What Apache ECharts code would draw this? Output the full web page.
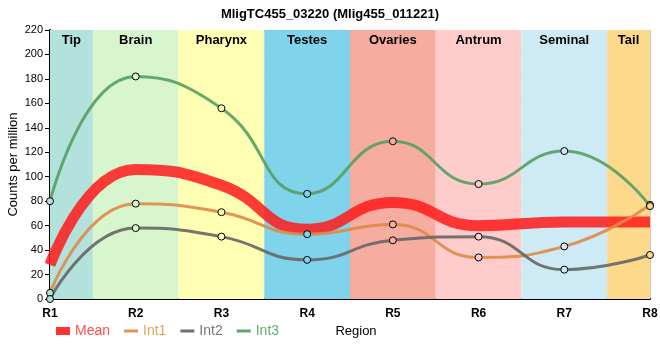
<!DOCTYPE html>
<html>
<head>
<meta charset="utf-8">
<script src="https://cdn.jsdelivr.net/npm/echarts@6/dist/echarts.min.js"></script>
<style>html,body{margin:0;padding:0;background:#fff;}#c{width:660px;height:360px;}</style>
</head>
<body>
<div id="c"></div>
<script>
var categories = ['R1','R2','R3','R4','R5','R6','R7','R8'];
var bands = ['Tip','Brain','Pharynx','Testes','Ovaries','Antrum','Seminal','Tail'];
var bandColors = ['#b3e2dd','#d8f6ce','#ffffb4','#7fd4eb','#f6ada0','#ffcccc','#ceeaf5','#fdd98c'];
var meanValues = [28, 106, 93, 57, 79, 60, 63, 63];
var int1Values = [5, 78, 71, 53, 61, 34, 43, 77];
var int2Values = [0, 58, 51, 32, 48, 51, 24, 36];
var int3Values = [80, 182, 156, 86, 129, 94, 121, 76];
var yTicks = {min: 0, max: 220, interval: 20};

var font = 'Liberation Sans, Arial, sans-serif';
var chart = echarts.init(document.getElementById('c'));

var markData = bands.map(function (b, i) {
  return [
    {xAxis: Math.max(0, i - 0.5), name: b, itemStyle: {color: bandColors[i]}},
    {xAxis: Math.min(categories.length - 1, i + 0.5)}
  ];
});

function intSeries(name, data, color) {
  return {
    name: name, type: 'line', data: data, smooth: 0.5,
    xAxisIndex: 0, yAxisIndex: 0, z: 3,
    symbol: 'circle', symbolSize: 7, showSymbol: true,
    lineStyle: {color: color, width: 3, opacity: 0.9},
    itemStyle: {
      color: function (p) { return bandColors[p.dataIndex]; },
      borderColor: '#000', borderWidth: 1
    },
    emphasis: {disabled: true}
  };
}

var lineIcon = 'path://M0,0H14V3H0Z';

chart.setOption({
  animation: false,
  title: {
    text: 'MligTC455_03220 (Mlig455_011221)', left: 'center', top: 3,
    textStyle: {fontFamily: font, fontSize: 13, fontWeight: 'bold', color: '#000'}
  },
  grid: {left: 50, right: 10, top: 30, bottom: 61, containLabel: false, outerBoundsMode: 'none'},
  legend: {
    left: 56, top: 324, padding: 0, itemWidth: 14, itemHeight: 8, itemGap: 14,
    textStyle: {fontFamily: font, fontSize: 14},
    data: [
      {name: 'Mean', icon: 'rect', itemStyle: {color: '#ff3333', borderWidth: 0}, textStyle: {color: '#ff4d4d'}},
      {name: 'Int1', icon: lineIcon, itemStyle: {color: '#e0945a', borderWidth: 0}, textStyle: {color: '#e8a060'}},
      {name: 'Int2', icon: lineIcon, itemStyle: {color: '#707070', borderWidth: 0}, textStyle: {color: '#777777'}},
      {name: 'Int3', icon: lineIcon, itemStyle: {color: '#5ea86a', borderWidth: 0}, textStyle: {color: '#6aac74'}}
    ]
  },
  xAxis: [{
    type: 'category', data: categories, boundaryGap: false,
    name: 'Region', nameLocation: 'middle', nameGap: 26, nameMoveOverlap: false,
    nameTextStyle: {fontFamily: font, fontSize: 13, color: '#000', padding: [0, 0, 0, 12]},
    axisLine: {lineStyle: {color: '#000', width: 2}},
    axisTick: {show: false},
    axisLabel: {fontFamily: font, fontSize: 12, fontWeight: 'bold', color: '#000', margin: 9},
    splitLine: {show: true, lineStyle: {color: '#cccccc', width: 1}}
  }, {
    type: 'value', min: 0, max: categories.length - 1, show: false
  }],
  yAxis: {
    type: 'value', min: yTicks.min, max: yTicks.max, interval: yTicks.interval,
    name: 'Counts per million', nameLocation: 'middle', nameGap: 30, nameMoveOverlap: false,
    nameTextStyle: {fontFamily: font, fontSize: 13, color: '#000'},
    axisLine: {show: true, lineStyle: {color: '#000', width: 2}},
    axisTick: {show: true, length: 5, lineStyle: {color: '#000'}},
    axisLabel: {fontFamily: font, fontSize: 11, color: '#000', margin: 7},
    splitLine: {show: true, lineStyle: {color: '#cccccc', width: 1}}
  },
  series: [
    {
      name: 'bands', type: 'line', xAxisIndex: 1, yAxisIndex: 0, data: [], z: -1,
      silent: true,
      markArea: {
        silent: true,
        label: {show: true, position: 'insideTop', distance: 4, fontFamily: font, fontSize: 13, fontWeight: 'bold', color: '#000'},
        data: markData
      }
    },
    {
      name: 'Mean', type: 'line', data: meanValues, smooth: 0.5, z: 2,
      showSymbol: false, symbol: 'none',
      lineStyle: {color: '#ff1a1a', width: 11, opacity: 0.85},
      itemStyle: {color: '#ff3333'},
      emphasis: {disabled: true}
    },
    intSeries('Int1', int1Values, '#df8a48'),
    intSeries('Int2', int2Values, '#666666'),
    intSeries('Int3', int3Values, '#55a062')
  ]
});
</script>
</body>
</html>
